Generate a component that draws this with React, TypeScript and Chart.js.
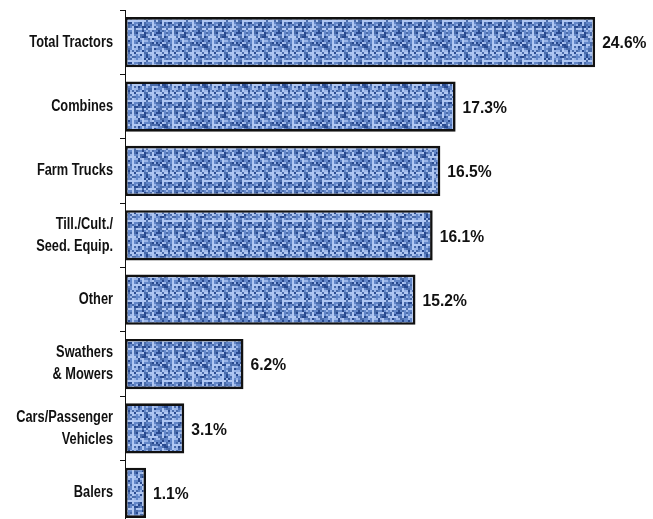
import React, { useEffect, useRef } from "react";
import { Chart, registerables } from "chart.js";

Chart.register(...registerables);

const categories: string[][] = [
  ["Total Tractors"],
  ["Combines"],
  ["Farm Trucks"],
  ["Till./Cult./", "Seed. Equip."],
  ["Other"],
  ["Swathers", "& Mowers"],
  ["Cars/Passenger", "Vehicles"],
  ["Balers"],
];
const shares = [24.6, 17.3, 16.5, 16.1, 15.2, 6.2, 3.1, 1.1];
const valueLabels = ["24.6%", "17.3%", "16.5%", "16.1%", "15.2%", "6.2%", "3.1%", "1.1%"];

const FONT = "'Liberation Sans', Arial, sans-serif";

function makePattern(): CanvasPattern | string {
  const cells = 20;
  const cell = 2;
  const size = cells * cell;
  const src = document.createElement("canvas");
  src.width = size;
  src.height = size;
  const g = src.getContext("2d");
  if (!g) return "#6d8ccc";
  g.fillStyle = "#6387c9";
  g.fillRect(0, 0, size, size);
  const hash = (x: number, y: number) => {
    let h = (x * 374761393 + y * 668265263) | 0;
    h = Math.imul(h ^ (h >>> 13), 1274126177);
    h = h ^ (h >>> 16);
    return ((h >>> 0) % 1000) / 1000;
  };
  for (let y = 0; y < cells; y++) {
    for (let x = 0; x < cells; x++) {
      const weave = x % 5 === 1 || y % 4 === 2;
      const r = hash(x + 3, y + 7);
      let col: string | null = null;
      if (weave && r > 0.3) col = "#b0c7f2";
      else if (r > 0.8) col = "#9ab5e8";
      else if (r < 0.15) col = "#28498f";
      else if (r < 0.33) col = "#4a6cab";
      if (col) {
        g.fillStyle = col;
        g.fillRect(x * cell, y * cell, cell, cell);
      }
    }
  }
  // soften: tile 3x3, blur, crop centre tile
  const big = document.createElement("canvas");
  big.width = size * 3;
  big.height = size * 3;
  const bg = big.getContext("2d");
  if (!bg) return g.createPattern(src, "repeat") || "#6d8ccc";
  bg.filter = "blur(0.7px)";
  for (let i = 0; i < 3; i++) for (let j = 0; j < 3; j++) bg.drawImage(src, i * size, j * size);
  const out = document.createElement("canvas");
  out.width = size;
  out.height = size;
  const og = out.getContext("2d");
  if (!og) return g.createPattern(src, "repeat") || "#6d8ccc";
  og.drawImage(big, size, size, size, size, 0, 0, size, size);
  return og.createPattern(out, "repeat") || "#6d8ccc";
}

export default function App() {
  const ref = useRef<HTMLCanvasElement | null>(null);

  useEffect(() => {
    if (!ref.current) return;
    document.body.style.margin = "0";
    document.body.style.overflow = "hidden";
    const pattern = makePattern();

    const textPlugin = {
      id: "condensedText",
      afterDatasetsDraw(chart: any) {
        const ctx = chart.ctx;
        const meta = chart.getDatasetMeta(0);
        const yScale = chart.scales.y;
        ctx.save();
        ctx.fillStyle = "#111";
        ctx.textBaseline = "middle";
        ctx.font = `bold 17px ${FONT}`;
        ctx.textAlign = "left";
        meta.data.forEach((bar: any, i: number) => {
          ctx.save();
          ctx.translate(bar.x + 7, bar.y + 1.5);
          ctx.scale(0.92, 1);
          ctx.fillText(valueLabels[i], 0, 0);
          ctx.restore();
        });
        ctx.font = `bold 16px ${FONT}`;
        ctx.textAlign = "right";
        const right = yScale.right - 12;
        categories.forEach((lines, i) => {
          const cy = yScale.getPixelForValue(i);
          const gap = 22;
          const start = cy - ((lines.length - 1) * gap) / 2;
          lines.forEach((line, j) => {
            ctx.save();
            ctx.translate(right, start + j * gap);
            ctx.scale(0.8, 1);
            ctx.fillText(line, 0, 0);
            ctx.restore();
          });
        });
        ctx.restore();
      },
    };

    const chart = new Chart(ref.current, {
      type: "bar",
      data: {
        labels: categories.map((l) => l.join(" ")),
        datasets: [
          {
            data: shares,
            backgroundColor: pattern as any,
            borderColor: "#111",
            borderWidth: 2.6,
            borderSkipped: false,
            barPercentage: 1,
            categoryPercentage: 0.78,
          },
        ],
      },
      options: {
        indexAxis: "y",
        animation: false,
        responsive: false,
        devicePixelRatio: 1,
        layout: { padding: { top: 10, right: 12, bottom: 0, left: 0 } },
        plugins: {
          legend: { display: false },
          tooltip: { enabled: false },
          title: { display: false },
        },
        scales: {
          x: {
            display: false,
            min: 0,
            max: 27,
          },
          y: {
            afterFit(scale: any) {
              scale.width = 125;
              scale.paddingTop = 0;
              scale.paddingBottom = 0;
            },
            border: { display: true, color: "#111", width: 1 },
            grid: {
              offset: true,
              drawOnChartArea: false,
              drawTicks: true,
              tickLength: 5,
              color: "#111",
            },
            ticks: {
              display: false,
            },
          },
        },
      },
      plugins: [textPlugin],
    });
    return () => chart.destroy();
  }, []);

  return (
    <div style={{ position: "fixed", left: 0, top: 0, width: 653, height: 519, overflow: "hidden", background: "#fff" }}>
      <canvas ref={ref} width={653} height={525} style={{ display: "block" }} />
    </div>
  );
}
